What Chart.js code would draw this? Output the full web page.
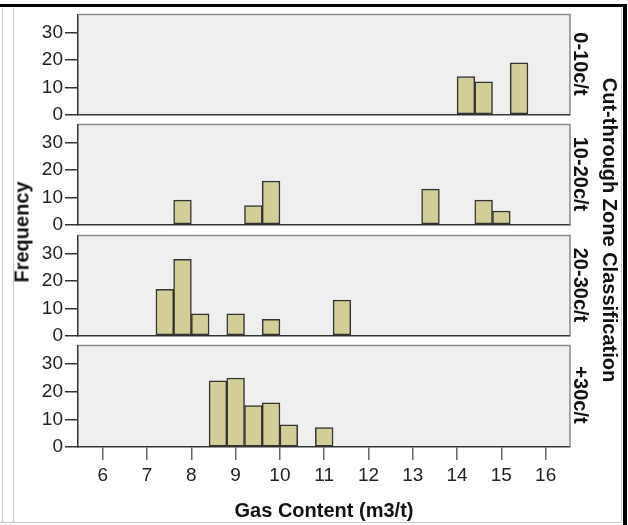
<!DOCTYPE html>
<html>
<head>
<meta charset="utf-8">
<script src="https://cdn.jsdelivr.net/npm/chart.js@4"></script>
<style>
  body { margin: 0; background: #fff; font-family: "Liberation Sans", Arial, sans-serif; }
  #page { position: relative; width: 628px; height: 525px; overflow: hidden; }
  .line { position: absolute; }
  .panel { position: absolute; left: 0; width: 628px; }
  .rot { position: absolute; white-space: nowrap; font-weight: bold; font-size: 20px; color: #111;
         transform: translate(-50%, -50%) rotate(90deg); }
  .rot.ccw { transform: translate(-50%, -50%) rotate(-90deg); }
</style>
</head>
<body>
<div id="page">
  <div class="line" style="left:0;top:4px;width:627px;height:3px;background:#000"></div>
  <div class="line" style="left:623px;top:4px;width:4px;height:521px;background:#000"></div>
  <div class="line" style="left:2px;top:8px;width:1px;height:515px;background:#c8c8c8"></div>
  <div class="line" style="left:13px;top:8px;width:1px;height:515px;background:#c8c8c8"></div>
  <div class="line" style="left:0;top:522px;width:622px;height:1px;background:#c8c8c8"></div>
  <div class="line" style="left:621px;top:8px;width:1px;height:515px;background:#c8c8c8"></div>

  <div class="panel" style="top:1px;height:127px"><canvas id="p0" width="628" height="127"></canvas></div>
  <div class="panel" style="top:111px;height:127px"><canvas id="p1" width="628" height="127"></canvas></div>
  <div class="panel" style="top:222px;height:127px"><canvas id="p2" width="628" height="127"></canvas></div>
  <div class="panel" style="top:332px;height:193px"><canvas id="p3" width="628" height="193"></canvas></div>

  <div class="rot ccw" style="left:22px;top:232px">Frequency</div>
  <div class="rot" style="left:609px;top:230px">Cut-through Zone Classification</div>
  <div class="rot" id="z0" style="left:580px;top:64px"></div>
  <div class="rot" id="z1" style="left:580px;top:174px"></div>
  <div class="rot" id="z2" style="left:580px;top:285px"></div>
  <div class="rot" id="z3" style="left:580px;top:395px"></div>
</div>

<script>
// histogram bins (centres, 0.4 m3/t wide) and counts for each zone
const zoneNames = ['0-10c/t', '10-20c/t', '20-30c/t', '+30c/t'];

const bins0to10 = [14.2, 14.6, 15.4];
const counts0to10 = [14, 12, 19];

const bins10to20 = [7.8, 9.4, 9.8, 13.4, 14.6, 15.0];
const counts10to20 = [9, 7, 16, 13, 9, 5];

const bins20to30 = [7.4, 7.8, 8.2, 9.0, 9.8, 11.4];
const counts20to30 = [17, 28, 8, 8, 6, 13];

const bins30plus = [8.6, 9.0, 9.4, 9.8, 10.2, 11.0];
const counts30plus = [24, 25, 15, 16, 8, 7];

const xTicks = [6, 7, 8, 9, 10, 11, 12, 13, 14, 15, 16];
const yTicks = [0, 10, 20, 30];

const zoneBins = [bins0to10, bins10to20, bins20to30, bins30plus];
const zoneCounts = [counts0to10, counts10to20, counts20to30, counts30plus];

const FONT = "'Liberation Sans', Arial, sans-serif";

// grey panel background + light top/right edges
const panelFrame = {
  id: 'panelFrame',
  beforeDraw(chart) {
    const { ctx, chartArea: a } = chart;
    ctx.save();
    ctx.fillStyle = '#efefef';
    ctx.fillRect(a.left, a.top, a.right - a.left, a.bottom - a.top);
    ctx.restore();
  },
  afterDraw(chart) {
    const { ctx, chartArea: a } = chart;
    ctx.save();
    ctx.strokeStyle = '#8a8a8a';
    ctx.lineWidth = 1.5;
    ctx.beginPath();
    ctx.moveTo(a.left, a.top);
    ctx.lineTo(a.right, a.top);
    ctx.lineTo(a.right, a.bottom);
    ctx.stroke();
    ctx.restore();
  }
};

function makePanel(i) {
  const last = i === zoneNames.length - 1;
  document.getElementById('z' + i).textContent = zoneNames[i];
  const data = zoneBins[i].map((b, k) => ({ x: b, y: zoneCounts[i][k] }));

  return new Chart(document.getElementById('p' + i), {
    type: 'bar',
    data: {
      datasets: [{
        data: data,
        backgroundColor: '#d3ce97',
        borderColor: '#333',
        borderWidth: 1.5,
        borderSkipped: false,
        barPercentage: 1,
        categoryPercentage: 1
      }]
    },
    options: {
      responsive: false,
      animation: false,
      layout: { padding: { top: 12, bottom: last ? 0 : 12, left: 0, right: 58 } },
      plugins: { legend: { display: false }, tooltip: { enabled: false } },
      scales: {
        x: {
          type: 'linear',
          min: 5.44,
          max: 16.55,
          offset: false,
          z: 1,
          afterFit(s) { s.height = last ? 78 : 0; },
          afterBuildTicks(s) { s.ticks = xTicks.map(v => ({ value: v })); },
          grid: { offset: false, drawOnChartArea: false, drawTicks: last, tickLength: 13, color: '#666', lineWidth: 1.5 },
          border: { display: true, color: '#333', width: 1.5 },
          ticks: { display: last, includeBounds: false, padding: 4, color: '#222', font: { family: FONT, size: 19 }, maxRotation: 0 },
          title: { display: last, text: 'Gas Content (m3/t)', color: '#111', padding: { top: 0, bottom: 2 },
                   font: { family: FONT, size: 20, weight: 'bold', lineHeight: 1.2 } }
        },
        y: {
          min: 0,
          max: 36.8,
          z: 1,
          afterFit(s) { s.width = 78; },
          afterBuildTicks(s) { s.ticks = yTicks.map(v => ({ value: v })); },
          grid: { drawOnChartArea: false, drawTicks: true, tickLength: 13, color: '#333', lineWidth: 1.5 },
          border: { display: true, color: '#333', width: 1.5 },
          ticks: { includeBounds: false, padding: 2, color: '#222', font: { family: FONT, size: 19 } }
        }
      }
    },
    plugins: [panelFrame]
  });
}

zoneNames.forEach((_, i) => makePanel(i));
</script>
</body>
</html>
